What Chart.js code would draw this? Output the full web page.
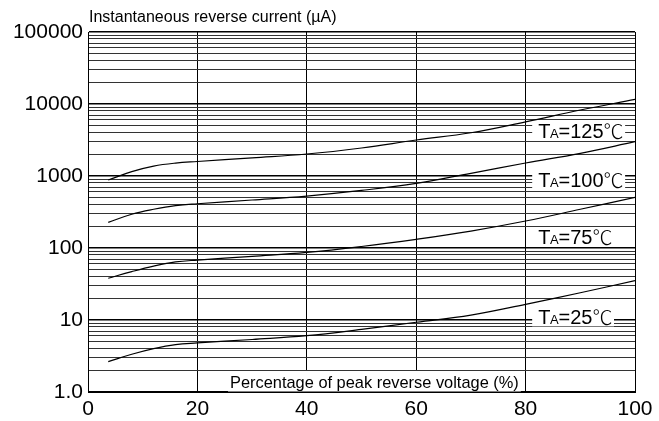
<!DOCTYPE html>
<html><head><meta charset="utf-8">
<script src="https://cdn.jsdelivr.net/npm/chart.js@4.4.1/dist/chart.umd.min.js"></script>
<style>html,body{margin:0;padding:0;background:#fff}</style>
</head><body>
<canvas id="c" width="659" height="421"></canvas>
<script>
// ---- data ----
const xValues = [3.7, 8, 12, 16, 20, 30, 40, 50, 60, 70, 80, 90, 100];
const t125 = [880, 1150, 1370, 1510, 1590, 1790, 2020, 2450, 3160, 3990, 5650, 8250, 11600];
const t100 = [227, 294, 345, 388, 412, 464, 527, 630, 790, 1090, 1515, 2066, 2995];
const t75  = [38, 47, 56, 64, 68, 76.7, 87, 105, 132, 172, 237, 345, 506];
const t25  = [2.64, 3.34, 4.0, 4.55, 4.8, 5.36, 6.05, 7.4, 9.3, 11.7, 16.5, 23.9, 35.2];
const labelTemps = ['125', '100', '75', '25'];
const yTickValues = [1, 10, 100, 1000, 10000, 100000];
const yTickLabels = ['1.0', '10', '100', '1000', '10000', '100000'];
const xTickValues = [0, 20, 40, 60, 80, 100];
const yTitle = 'Instantaneous reverse current (µA)';
const xTitle = 'Percentage of peak reverse voltage (%)';
// label anchors (data coordinates: x %, y value at text baseline)
const labelAnchorX = 82.3;
const labelAnchorY = [3320, 697, 112, 8.7];

const FONT = '"Liberation Sans", Arial, Helvetica, sans-serif';

const gridValues = [];
yTickValues.forEach((d, i) => {
  if (i < yTickValues.length - 1) { for (let m = 1; m <= 9; m++) gridValues.push(d * m); }
  else gridValues.push(d);
});

const series = [t125, t100, t75, t25];
const datasets = series.map((s, i) => ({
  label: 'TA=' + labelTemps[i] + '℃',
  data: xValues.map((x, j) => ({ x: x, y: s[j] })),
  borderColor: '#000',
  borderWidth: 1.2,
  pointRadius: 0,
  fill: false,
  tension: 0.4
}));

function whiteBox(ctx, x0, y0, x1, y1) {
  ctx.save(); ctx.fillStyle = '#fff'; ctx.fillRect(x0, y0, x1 - x0, y1 - y0); ctx.restore();
}

const annot = {
  id: 'annot',
  beforeDatasetsDraw(chart) {
    const ctx = chart.ctx;
    const xs = chart.scales.x, ys = chart.scales.y, ca = chart.chartArea;
    ctx.save();
    ctx.fillStyle = '#000';
    ctx.textBaseline = 'alphabetic';
    // x title inside plot, bottom
    ctx.font = '16.4px ' + FONT;
    const wx = ctx.measureText(xTitle).width;
    const xt = 230;
    whiteBox(ctx, xt - 2, ca.bottom - 21, xt + wx + 2, ca.bottom - 0.5);
    ctx.fillStyle = '#000';
    ctx.fillText(xTitle, xt, ca.bottom - 3.7);
    // temperature labels
    labelTemps.forEach((t, i) => {
      const px = xs.getPixelForValue(labelAnchorX);
      const py = ys.getPixelForValue(labelAnchorY[i]);
      ctx.font = '20px ' + FONT; const wT = ctx.measureText('T').width;
      ctx.font = '13px ' + FONT; const wA = ctx.measureText('A').width;
      ctx.font = '20px ' + FONT; const rest = '=' + t; const wR = ctx.measureText(rest).width;
      ctx.font = '300 20px "Noto Sans CJK SC", "DejaVu Sans", sans-serif'; const wC = ctx.measureText('℃').width;
      const total = wT + wA + wR + wC;
      whiteBox(ctx, px - 6, py - 17, px + total + 1, py + 2);
      ctx.fillStyle = '#000';
      let cx = px;
      ctx.font = '20px ' + FONT; ctx.fillText('T', cx, py); cx += wT - 0.5;
      ctx.font = '13px ' + FONT; ctx.fillText('A', cx, py); cx += wA;
      ctx.font = '20px ' + FONT; ctx.fillText(rest, cx, py); cx += wR;
      ctx.font = '300 20px "Noto Sans CJK SC", "DejaVu Sans", sans-serif'; ctx.fillText('℃', cx, py + 1);
    });
    ctx.restore();
  },
  afterDraw(chart) {
    const ctx = chart.ctx, ca = chart.chartArea;
    ctx.save();
    ctx.fillStyle = '#000';
    ctx.font = '16px ' + FONT;
    ctx.textBaseline = 'alphabetic';
    ctx.fillText(yTitle, ca.left + 1, 22);
    ctx.restore();
  }
};

new Chart(document.getElementById('c'), {
  type: 'line',
  data: { datasets: datasets },
  plugins: [annot],
  options: {
    responsive: false,
    animation: false,
    devicePixelRatio: 1,
    layout: { padding: { top: 32, right: 24, left: 0, bottom: 0 } },
    plugins: { legend: { display: false }, tooltip: { enabled: false }, title: { display: false } },
    scales: {
      x: {
        type: 'linear', min: 0, max: 100,
        afterBuildTicks: (s) => { s.ticks = xTickValues.map(v => ({ value: v })); },
        afterFit: (s) => { s.height = 29; },
        ticks: { autoSkip: false, maxRotation: 0, padding: 5, color: '#000', font: { size: 21, family: FONT } },
        grid: { drawTicks: false, color: '#000', lineWidth: 1 },
        border: { color: '#000', width: 1 }
      },
      y: {
        type: 'logarithmic', min: 1, max: 100000,
        afterBuildTicks: (s) => { s.ticks = gridValues.map(v => ({ value: v, major: yTickValues.includes(v) })); },
        afterFit: (s) => { s.width = 88; },
        ticks: {
          autoSkip: false, padding: 5, color: '#000', font: { size: 21, family: FONT },
          callback: (v) => { const i = yTickValues.indexOf(v); return i >= 0 ? yTickLabels[i] : ''; }
        },
        grid: {
          drawTicks: false,
          color: (c) => (c.tick && yTickValues.includes(c.tick.value)) ? '#000' : '#333',
          lineWidth: (c) => (c.tick && yTickValues.includes(c.tick.value)) ? 1.6 : 1
        },
        border: { color: '#000', width: 1 }
      }
    }
  }
});
</script>
</body></html>
